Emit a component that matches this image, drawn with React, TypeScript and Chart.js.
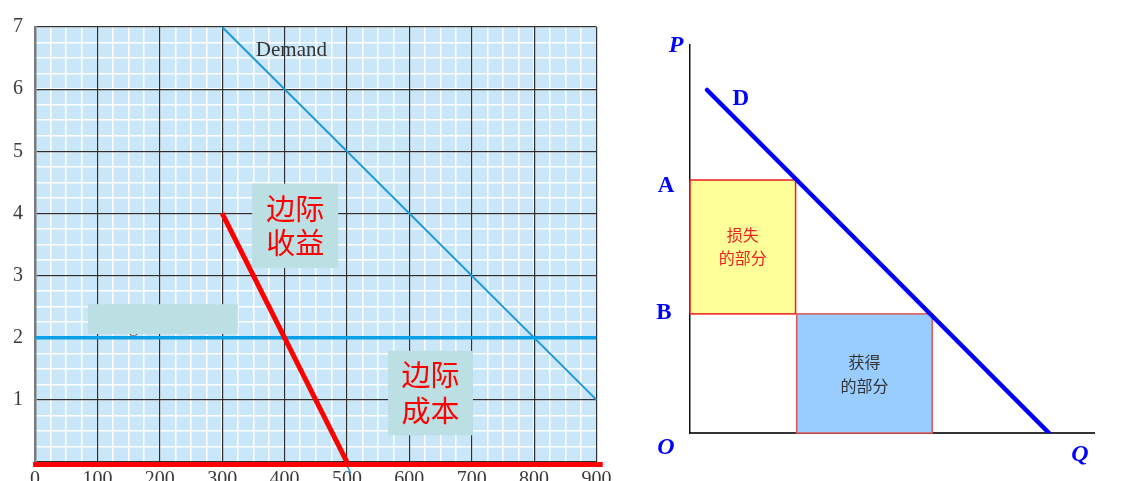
import React, { useEffect, useRef } from "react";
import { Chart, registerables } from "chart.js";

Chart.register(...registerables);

// ---------- Left chart data ----------
const quantityTicks = [0, 100, 200, 300, 400, 500, 600, 700, 800, 900];
const priceTicks = [1, 2, 3, 4, 5, 6, 7];
const demandQ = [300, 900];
const demandP = [7, 1];
const marginalRevenueQ = [300, 500];
const marginalRevenueP = [4, 0];
const originalMRQ = [300, 506];
const originalMRP = [4, -0.18];
const marginalCostQ = [0, 900];
const marginalCostP = [2, 2];
const baseRedQ = [-3, 910];
const baseRedP = [-0.04, -0.04];
const revenueLabel = ["边际", "收益"];
const costLabel = ["边际", "成本"];
const demandLabel = "Demand";
const hiddenLabel = "Marginal cost";

// ---------- Right chart data ----------
const dCurveQ = [0.44, 9.25];
const dCurveP = [8.84, 0];
const priceA = 6.52;
const priceB = 3.07;
const qLossRight = 2.72;
const qGainLeft = 2.75;
const qGainRight = 6.24;
const lossLabel = ["损失", "的部分"];
const gainLabel = ["获得", "的部分"];

const pts = (qs: number[], ps: number[]) => qs.map((q, i) => ({ x: q, y: ps[i] }));

const SERIF = "'Liberation Serif', 'DejaVu Serif', serif";
const CJK = "'Noto Sans CJK SC', sans-serif";

const leftDecor = {
  id: "leftDecor",
  beforeDraw(chart: any) {
    const { ctx, chartArea: a } = chart;
    ctx.save();
    ctx.fillStyle = "#C9E7F8";
    ctx.fillRect(a.left, a.top, a.right - a.left, a.bottom - a.top);
    ctx.restore();
  },
  afterDatasetsDraw(chart: any) {
    const { ctx } = chart;
    const xs = chart.scales.x;
    const ys = chart.scales.y;
    const X = (v: number) => xs.getPixelForValue(v);
    const Y = (v: number) => ys.getPixelForValue(v);
    ctx.save();
    // Demand label
    ctx.fillStyle = "#333333";
    ctx.font = `21px ${SERIF}`;
    ctx.textAlign = "left";
    ctx.textBaseline = "middle";
    ctx.fillText(demandLabel, X(354), Y(6.63));
    // original (covered) label
    ctx.fillStyle = "#666666";
    ctx.font = `19px ${SERIF}`;
    ctx.textBaseline = "alphabetic";
    ctx.fillText(hiddenLabel, X(100), Y(2.09));
    const box = (x0: number, x1: number, y0: number, y1: number) => {
      ctx.fillStyle = "#BBDFE3";
      const l = X(x0), r = X(x1), t = Y(y0), b = Y(y1);
      ctx.fillRect(l, t, r - l, b - t);
      return { cx: (l + r) / 2, cy: (t + b) / 2 };
    };
    box(85, 325, 2.54, 2.06);
    const b1 = box(348, 486, 4.48, 3.12);
    const b2 = box(566, 702, 1.79, 0.43);
    ctx.fillStyle = "#FF0000";
    ctx.font = `29px ${CJK}`;
    ctx.textAlign = "center";
    ctx.textBaseline = "middle";
    ctx.fillText(revenueLabel[0], b1.cx, b1.cy - 17);
    ctx.fillText(revenueLabel[1], b1.cx, b1.cy + 17);
    ctx.fillText(costLabel[0], b2.cx, b2.cy - 18);
    ctx.fillText(costLabel[1], b2.cx, b2.cy + 18);
    ctx.restore();
  },
};

function leftConfig(): any {
  const line = (qs: number[], ps: number[], color: string, width: number, order: number, clip?: boolean) => ({
    data: pts(qs, ps),
    showLine: true,
    borderColor: color,
    borderWidth: width,
    pointRadius: 0,
    order,
    ...(clip === false ? { clip: false } : {}),
  });
  const tickFont = { family: SERIF, size: 20 };
  return {
    type: "scatter",
    data: {
      datasets: [
        line(marginalRevenueQ, marginalRevenueP, "#FF0000", 5, 0),
        line(baseRedQ, baseRedP, "#FF0000", 5, 1, false),
        line(marginalCostQ, marginalCostP, "#0A9FE6", 3.5, 2),
        line(demandQ, demandP, "#1E98DC", 2, 3),
        line(originalMRQ, originalMRP, "#1E98DC", 1.5, 4, false),
      ],
    },
    options: {
      responsive: false,
      animation: false,
      devicePixelRatio: 1,
      layout: { padding: { top: 27, right: 23.5, left: 0, bottom: 0 } },
      plugins: { legend: { display: false }, tooltip: { enabled: false } },
      scales: {
        xMinor: {
          type: "linear", position: "bottom", min: 0, max: 900,
          ticks: { stepSize: 25, display: false },
          grid: { color: "#FFFFFF", lineWidth: 1.5, drawTicks: false, z: -2 },
          border: { display: false },
          afterFit: (s: any) => { s.height = 0; },
        },
        yMinor: {
          type: "linear", position: "left", min: 0, max: 7,
          ticks: { stepSize: 0.25, display: false },
          grid: { color: "#FFFFFF", lineWidth: 1.5, drawTicks: false, z: -2 },
          border: { display: false },
          afterFit: (s: any) => { s.width = 0; },
        },
        x: {
          type: "linear", position: "bottom", min: 0, max: 900,
          afterBuildTicks: (s: any) => { s.ticks = quantityTicks.map((v) => ({ value: v })); },
          ticks: { callback: (v: any) => String(v), font: tickFont, color: "#3A3A3A", padding: 6, autoSkip: false, maxRotation: 0 },
          grid: { color: "#2E2E2E", lineWidth: 1.2, drawTicks: false, z: -1 },
          border: { display: false },
          afterFit: (s: any) => { s.height = 19; },
        },
        y: {
          type: "linear", position: "left", min: 0, max: 7,
          afterBuildTicks: (s: any) => { s.ticks = [0, ...priceTicks].map((v) => ({ value: v })); },
          ticks: { callback: (v: any) => (priceTicks.includes(v) ? String(v) : ""), font: tickFont, color: "#3A3A3A", padding: 0, autoSkip: false },
          grid: { color: "#2E2E2E", lineWidth: 1.2, drawTicks: true, tickLength: 12, tickColor: "rgba(0,0,0,0)", z: -1 },
          border: { display: true, color: "#7A7A7A", width: 2.5 },
          afterFit: (s: any) => { s.width = 35; },
        },
      },
    },
    plugins: [leftDecor],
  };
}

const rightDecor = {
  id: "rightDecor",
  beforeDatasetsDraw(chart: any) {
    const { ctx } = chart;
    const X = (v: number) => chart.scales.x.getPixelForValue(v);
    const Y = (v: number) => chart.scales.y.getPixelForValue(v);
    ctx.save();
    const rect = (q0: number, q1: number, p0: number, p1: number, fill: string, stroke: string) => {
      const l = X(q0), r = X(q1), t = Y(p1), b = Y(p0);
      ctx.fillStyle = fill;
      ctx.fillRect(l, t, r - l, b - t);
      ctx.strokeStyle = stroke;
      ctx.lineWidth = 1.5;
      ctx.strokeRect(l, t, r - l, b - t);
      return { cx: (l + r) / 2, cy: (t + b) / 2 };
    };
    const loss = rect(0, qLossRight, priceB, priceA, "#FFFF99", "#EE1C1C");
    const gain = rect(qGainLeft, qGainRight, 0, priceB, "#99CCFF", "#E05555");
    ctx.font = `16px ${CJK}`;
    ctx.textAlign = "center";
    ctx.textBaseline = "middle";
    ctx.fillStyle = "#F02020";
    ctx.fillText(lossLabel[0], loss.cx, loss.cy - 12);
    ctx.fillText(lossLabel[1], loss.cx, loss.cy + 11);
    ctx.fillStyle = "#333333";
    ctx.fillText(gainLabel[0], gain.cx, gain.cy - 12);
    ctx.fillText(gainLabel[1], gain.cx, gain.cy + 12);
    ctx.restore();
  },
  afterDraw(chart: any) {
    const { ctx } = chart;
    const X = (v: number) => chart.scales.x.getPixelForValue(v);
    const Y = (v: number) => chart.scales.y.getPixelForValue(v);
    ctx.save();
    ctx.fillStyle = "#0000FF";
    ctx.textAlign = "center";
    ctx.textBaseline = "middle";
    ctx.font = `italic bold 24px ${SERIF}`;
    ctx.fillText("P", X(-0.36), Y(9.97));
    ctx.fillText("O", X(-0.62), Y(-0.39));
    ctx.fillText("Q", X(10.05), Y(-0.57));
    ctx.font = `bold 23px ${SERIF}`;
    ctx.fillText("D", X(1.31), Y(8.61));
    ctx.fillText("A", X(-0.62), Y(6.37));
    ctx.fillText("B", X(-0.67), Y(3.09));
    ctx.restore();
  },
};

function rightConfig(): any {
  return {
    type: "scatter",
    data: {
      datasets: [
        {
          data: pts(dCurveQ, dCurveP),
          showLine: true,
          borderColor: "#0000FF",
          borderWidth: 4.5,
          borderCapStyle: "round",
          pointRadius: 0,
        },
      ],
    },
    options: {
      responsive: false,
      animation: false,
      devicePixelRatio: 1,
      layout: { padding: { top: 45, right: 37, left: 0, bottom: 0 } },
      plugins: { legend: { display: false }, tooltip: { enabled: false } },
      scales: {
        x: {
          type: "linear", min: 0, max: 10.41,
          ticks: { display: false },
          grid: { display: false, drawTicks: false },
          border: { display: true, color: "#333333", width: 2 },
          afterFit: (s: any) => { s.height = 48; },
        },
        y: {
          type: "linear", min: 0, max: 10,
          ticks: { display: false },
          grid: { display: false, drawTicks: false },
          border: { display: true, color: "#111111", width: 1.5 },
          afterFit: (s: any) => { s.width = 50; },
        },
      },
    },
    plugins: [rightDecor],
  };
}

function ChartCanvas({ make, left, width, height }: { make: () => any; left: number; width: number; height: number }) {
  const ref = useRef<HTMLCanvasElement>(null);
  useEffect(() => {
    const chart = new Chart(ref.current as HTMLCanvasElement, make());
    return () => chart.destroy();
  }, []);
  return (
    <canvas
      ref={ref}
      width={width}
      height={height}
      style={{ position: "absolute", left, top: 0, width, height, display: "block" }}
    />
  );
}

export default function App() {
  return (
    <div style={{ position: "fixed", left: 0, top: 0, width: 1131, height: 481, background: "#FFFFFF", overflow: "hidden" }}>
      <ChartCanvas make={leftConfig} left={0} width={620} height={481} />
      <ChartCanvas make={rightConfig} left={640} width={491} height={481} />
    </div>
  );
}
